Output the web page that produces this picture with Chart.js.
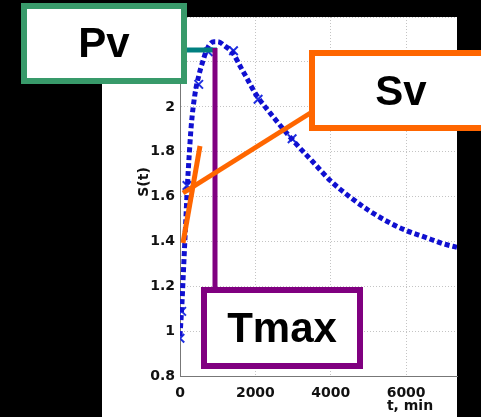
<!DOCTYPE html>
<html>
<head>
<meta charset="utf-8">
<script src="https://cdn.jsdelivr.net/npm/chart.js@4/dist/chart.umd.min.js"></script>
<style>
  html, body { margin: 0; padding: 0; background: #000; }
  #wrap { width: 481px; height: 417px; }
</style>
</head>
<body>
<div id="wrap"><canvas id="c" width="481" height="417"></canvas></div>
<script>
// fitted S(t) curve, t in minutes
const curveT = [0, 50, 100, 150, 200, 250, 300, 400, 500, 600, 700, 800, 900, 1000, 1200, 1400, 1600, 1800, 2000, 2500, 3000, 3500, 4000, 4500, 5000, 5500, 6000, 6500, 7000, 7350];
const curveS = [0.98, 1.12, 1.3, 1.48, 1.66, 1.8, 1.92, 2.06, 2.14, 2.2, 2.25, 2.28, 2.29, 2.29, 2.27, 2.24, 2.18, 2.12, 2.06, 1.95, 1.85, 1.76, 1.67, 1.6, 1.54, 1.49, 1.45, 1.42, 1.39, 1.375];

// measured points
const pointT = [0, 45, 185, 497, 752, 1420, 2072, 2975];
const pointS = [0.97, 1.09, 1.65, 2.1, 2.245, 2.25, 2.034, 1.858];

// axis ranges and ticks
const xMin = 0, xMax = 7350;
const xTickValues = [0, 2000, 4000, 6000];
const yMin = 0.8, yMax = 2.4, yStep = 0.2;

const tickFont = { family: 'DejaVu Sans', size: 14, weight: 'bold' };

const overlay = {
  id: 'overlay',
  beforeDraw(chart) {
    const ctx = chart.ctx;
    ctx.save();
    ctx.fillStyle = '#000';
    ctx.fillRect(0, 0, chart.width, chart.height);
    ctx.fillStyle = '#fff';
    ctx.fillRect(102, 17, 355, 400);
    ctx.restore();
  },
  afterDraw(chart) {
    const ctx = chart.ctx;
    ctx.save();

    // axis titles
    ctx.fillStyle = '#111';
    ctx.font = 'bold 14px "DejaVu Sans"';
    ctx.textAlign = 'center';
    ctx.textBaseline = 'alphabetic';
    ctx.fillText('t, min', 410, 410);
    ctx.save();
    ctx.translate(148, 182);
    ctx.rotate(-Math.PI / 2);
    ctx.fillText('S(t)', 0, 0);
    ctx.restore();

    // connector lines
    ctx.lineCap = 'butt';
    ctx.lineWidth = 5;
    ctx.strokeStyle = '#008080';
    ctx.beginPath(); ctx.moveTo(185, 50); ctx.lineTo(217, 50); ctx.stroke();

    ctx.strokeStyle = '#800080';
    ctx.beginPath(); ctx.moveTo(215, 48); ctx.lineTo(215, 290); ctx.stroke();

    ctx.strokeStyle = '#ff6600';
    ctx.beginPath(); ctx.moveTo(183, 243); ctx.lineTo(200, 146); ctx.stroke();
    ctx.beginPath(); ctx.moveTo(183, 193); ctx.lineTo(312, 112); ctx.stroke();

    // label boxes
    const box = (x, y, w, h, color, text, tx, ty) => {
      ctx.fillStyle = '#fff';
      ctx.fillRect(x, y, w, h);
      ctx.lineWidth = 6;
      ctx.strokeStyle = color;
      ctx.strokeRect(x, y, w, h);
      ctx.fillStyle = '#000';
      ctx.font = 'bold 42px "Liberation Sans", Arial';
      ctx.textAlign = 'center';
      ctx.textBaseline = 'alphabetic';
      ctx.fillText(text, tx, ty);
    };
    box(24, 6, 160, 75, '#389a6a', 'Pv', 104, 57);
    box(312, 53, 200, 75, '#ff6600', 'Sv', 401, 105);
    box(204, 290, 156, 76, '#800080', 'Tmax', 282, 342);

    ctx.restore();
  }
};

new Chart(document.getElementById('c'), {
  type: 'line',
  data: {
    datasets: [
      {
        data: curveT.map((t, i) => ({ x: t, y: curveS[i] })),
        borderColor: '#1010d0',
        borderWidth: 5,
        borderDash: [5, 3],
        pointRadius: 0,
        cubicInterpolationMode: 'monotone',
        fill: false
      },
      {
        data: pointT.map((t, i) => ({ x: t, y: pointS[i] })),
        showLine: false,
        pointStyle: 'crossRot',
        pointRadius: 6,
        pointBorderWidth: 2,
        pointBorderColor: '#2030e0',
        borderColor: '#2030e0'
      }
    ]
  },
  options: {
    responsive: false,
    animation: false,
    devicePixelRatio: 1,
    layout: { padding: { left: 102, right: 24, top: 17, bottom: 0 } },
    plugins: {
      legend: { display: false },
      tooltip: { enabled: false }
    },
    scales: {
      x: {
        type: 'linear',
        min: xMin,
        max: xMax,
        afterFit: (s) => { s.height = 40.5; },
        afterBuildTicks: (s) => { s.ticks = xTickValues.map((v) => ({ value: v })); },
        ticks: {
          color: '#111',
          font: tickFont,
          padding: 8,
          maxRotation: 0,
          callback: (v) => String(v)
        },
        grid: { color: '#c4c4c4', lineWidth: 1, drawTicks: false },
        border: { display: true, color: '#777', width: 1, dash: [1, 2] }
      },
      y: {
        min: yMin,
        max: yMax,
        afterFit: (s) => { s.width = 78; },
        ticks: {
          stepSize: yStep,
          color: '#111',
          font: tickFont,
          padding: 5,
          callback: (v) => +v.toFixed(1)
        },
        grid: { color: '#c4c4c4', lineWidth: 1, drawTicks: false },
        border: { display: true, color: '#777', width: 1, dash: [1, 2] }
      }
    }
  },
  plugins: [overlay]
});
</script>
</body>
</html>
